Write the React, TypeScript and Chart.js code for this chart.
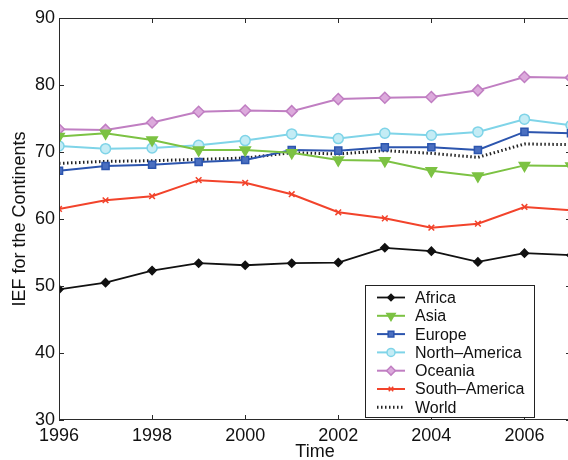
import React, { useEffect, useRef } from 'react';
import { Chart, registerables } from 'chart.js';
import { drawPoint } from 'chart.js/helpers';
Chart.register(...registerables);

const years = [1996, 1997, 1998, 1999, 2000, 2001, 2002, 2003, 2004, 2005, 2006, 2007];
const africa = [49.5, 50.5, 52.3, 53.4, 53.1, 53.4, 53.5, 55.7, 55.2, 53.6, 54.9, 54.6];
const asia = [72.3, 72.8, 71.8, 70.3, 70.3, 69.9, 68.8, 68.7, 67.2, 66.4, 68.0, 67.9];
const europe = [67.2, 67.9, 68.1, 68.5, 68.8, 70.3, 70.2, 70.7, 70.7, 70.3, 73.0, 72.8];
const northAmerica = [70.9, 70.5, 70.6, 71.0, 71.7, 72.7, 72.0, 72.8, 72.5, 73.0, 74.9, 74.0];
const oceania = [73.4, 73.3, 74.4, 76.0, 76.2, 76.1, 77.9, 78.1, 78.2, 79.2, 81.2, 81.1];
const southAmerica = [61.5, 62.8, 63.4, 65.8, 65.4, 63.7, 61.0, 60.1, 58.7, 59.3, 61.8, 61.3];
const world = [68.3, 68.6, 68.7, 68.9, 69.1, 69.9, 69.7, 70.2, 69.8, 69.2, 71.2, 71.1];

const xTicks = [1996, 1998, 2000, 2002, 2004, 2006];
const yTicks = [30, 40, 50, 60, 70, 80, 90];

const FONT = '"Liberation Sans", Arial, Helvetica, sans-serif';

const pts = (vals: number[]) => vals.map((v, i) => ({ x: years[i], y: v }));

const boxPlugin = {
  id: 'boxTicks',
  afterDatasetsDraw(chart: any) {
    const { ctx, chartArea } = chart;
    const { left, right, top, bottom } = chartArea;
    const xs = chart.scales.x;
    const ys = chart.scales.y;
    ctx.save();
    ctx.strokeStyle = '#2a2a2a';
    ctx.lineWidth = 1;
    ctx.setLineDash([]);
    ctx.strokeRect(left + 0.5, top + 0.5, right - left - 1, bottom - top - 1);
    ctx.beginPath();
    xTicks.forEach((v) => {
      const px = Math.round(xs.getPixelForValue(v)) + 0.5;
      ctx.moveTo(px, bottom);
      ctx.lineTo(px, bottom - 5);
      ctx.moveTo(px, top);
      ctx.lineTo(px, top + 5);
    });
    yTicks.forEach((v) => {
      const py = Math.round(ys.getPixelForValue(v)) + 0.5;
      ctx.moveTo(left, py);
      ctx.lineTo(left + 5, py);
      ctx.moveTo(right, py);
      ctx.lineTo(right - 5, py);
    });
    ctx.stroke();
    ctx.restore();
  },
};

const legendPlugin = {
  id: 'boxLegend',
  afterDraw(chart: any) {
    const ctx = chart.ctx;
    const x0 = 365, y0 = 285, w = 169, h = 132;
    ctx.save();
    ctx.fillStyle = '#ffffff';
    ctx.fillRect(x0, y0, w, h);
    ctx.strokeStyle = '#222';
    ctx.lineWidth = 1;
    ctx.strokeRect(x0 + 0.5, y0 + 0.5, w, h);
    chart.data.datasets.forEach((ds: any, i: number) => {
      const cy = y0 + 12.5 + i * 18.3;
      ctx.save();
      ctx.strokeStyle = ds.borderColor;
      ctx.lineWidth = ds.borderWidth;
      ctx.setLineDash(ds.borderDash || []);
      ctx.beginPath();
      ctx.moveTo(377, cy);
      ctx.lineTo(405, cy);
      ctx.stroke();
      ctx.setLineDash([]);
      if (ds.pointRadius > 0) {
        ctx.fillStyle = ds.pointBackgroundColor;
        ctx.strokeStyle = ds.borderColor;
        ctx.lineWidth = ds.pointBorderWidth;
        drawPoint(ctx, {
          pointStyle: ds.pointStyle,
          rotation: ds.pointRotation || 0,
          radius: ds.pointRadius * 0.8,
          borderWidth: ds.pointBorderWidth,
        } as any, 391, cy);
      }
      ctx.restore();
      ctx.fillStyle = '#111';
      ctx.font = `16px ${FONT}`;
      ctx.textBaseline = 'middle';
      ctx.textAlign = 'left';
      ctx.fillText(ds.label, 415, cy + 1);
    });
    ctx.restore();
  },
};

export default function App() {
  const ref = useRef<HTMLCanvasElement>(null);
  useEffect(() => {
    if (!ref.current) return;
    const mk = (label: string, data: number[], color: string, extra: any) => ({
      label,
      data: pts(data),
      borderColor: color,
      borderWidth: 2,
      pointBorderColor: color,
      pointBorderWidth: 1.5,
      pointHoverRadius: 0,
      fill: false,
      tension: 0,
      ...extra,
    });
    const chart = new Chart(ref.current, {
      type: 'line',
      data: {
        datasets: [
          mk('Africa', africa, '#111111', { pointStyle: 'rectRot', pointRadius: 4, pointBackgroundColor: '#111111', borderWidth: 1.8 }),
          mk('Asia', asia, '#7cc243', { pointStyle: 'triangle', pointRotation: 180, pointRadius: 6, pointBackgroundColor: '#7cc243' }),
          mk('Europe', europe, '#2c55ae', { pointStyle: 'rect', pointRadius: 5, pointBackgroundColor: '#4a6fc0' }),
          mk('North–America', northAmerica, '#7fd4e8', { pointStyle: 'circle', pointRadius: 5, pointBackgroundColor: '#c4ecf5' }),
          mk('Oceania', oceania, '#c07ec2', { pointStyle: 'rectRot', pointRadius: 5.5, pointBackgroundColor: '#dcaadc' }),
          mk('South–America', southAmerica, '#f2432b', { pointStyle: 'crossRot', pointRadius: 4, pointBackgroundColor: '#f2432b' }),
          mk('World', world, '#222222', { pointRadius: 0, borderDash: [1.5, 2.5], borderWidth: 3 }),
        ],
      },
      options: {
        animation: false,
        responsive: false,
        events: [],
        layout: { autoPadding: false, padding: { top: 18, right: 1, left: 0, bottom: 0 } },
        plugins: { legend: { display: false }, tooltip: { enabled: false } },
        scales: {
          x: {
            type: 'linear',
            min: 1996,
            max: 2007,
            afterBuildTicks: (s: any) => { s.ticks = xTicks.map((v) => ({ value: v })); },
            afterFit: (s: any) => { s.height = 40; s.paddingLeft = 0; s.paddingRight = 0; },
            grid: { display: false, drawTicks: false },
            border: { display: false },
            ticks: { color: '#111', font: { family: FONT, size: 18 }, padding: 5, maxRotation: 0, autoSkip: false, callback: (v: any) => String(v) },
            title: { display: true, text: 'Time', color: '#111', font: { family: FONT, size: 18, lineHeight: 1 }, padding: { top: 0, bottom: -1 } },
          },
          y: {
            type: 'linear',
            min: 30,
            max: 90,
            afterBuildTicks: (s: any) => { s.ticks = yTicks.map((v) => ({ value: v })); },
            afterFit: (s: any) => { s.width = 59; s.paddingTop = 0; s.paddingBottom = 0; },
            grid: { display: false, drawTicks: false },
            border: { display: false },
            ticks: { color: '#111', font: { family: FONT, size: 18 }, padding: 4 },
            title: { display: true, text: 'IEF for the Continents', color: '#111', font: { family: FONT, size: 18, lineHeight: 1 }, padding: { top: 11, bottom: 0 } },
          },
        },
      },
      plugins: [boxPlugin, legendPlugin],
    } as any);
    return () => chart.destroy();
  }, []);
  return (
    <div style={{ position: 'fixed', left: 0, top: 0, width: 568, height: 460, overflow: 'hidden', background: '#fff' }}>
      <canvas ref={ref} width={572} height={460} style={{ display: 'block', width: 572, height: 460 }} />
    </div>
  );
}
